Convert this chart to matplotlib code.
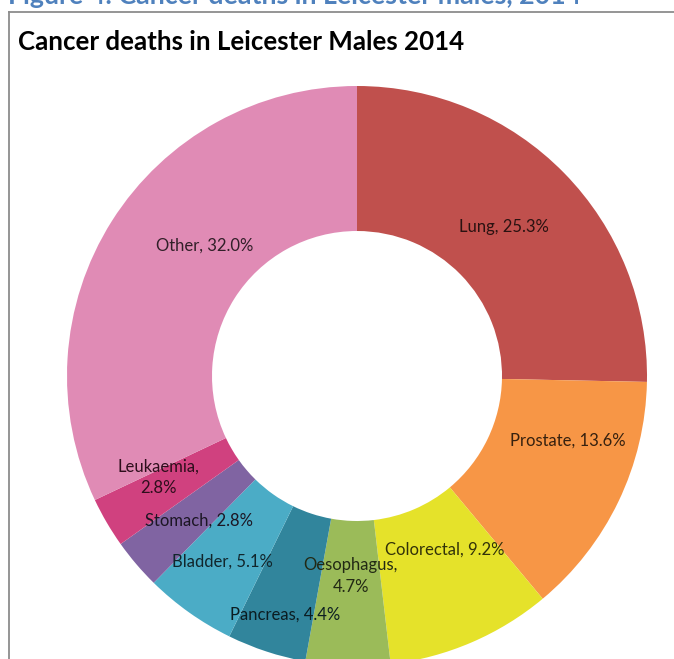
import matplotlib
matplotlib.use("Agg")
import matplotlib.pyplot as plt
import numpy as np

# data, clockwise from 12 o'clock
sites = ["Lung", "Prostate", "Colorectal", "Oesophagus", "Pancreas",
         "Bladder", "Stomach", "Leukaemia", "Other"]
shares = [25.3, 13.6, 9.2, 4.7, 4.4, 5.1, 2.8, 2.8, 32.0]
colours = ["#C0504D", "#F79646", "#E5E22A", "#9BBB59", "#31859C",
           "#4BACC6", "#8064A2", "#D0417F", "#E08BB5"]
# labels that wrap onto two lines in the original
two_line = ["Oesophagus", "Leukaemia"]
# where each label sits: fraction of outer radius and a small turn (deg, clockwise)
label_r = [0.72, 0.76, 0.67, 0.69, 0.86, 0.79, 0.74, 0.77, 0.69]
label_turn = [-1, -8.5, -3.5, 0, -1.5, 0.5, -2, 3.4, 8.3]

W, H = 674, 659
cx, cy, R = 357, 376, 290  # donut centre / radius in pixels

fig = plt.figure(figsize=(W / 100, H / 100), dpi=100)
ax = fig.add_axes([0, 0, 1, 1])

wedges, _ = ax.pie(shares, colors=colours, startangle=90, counterclock=False,
                   radius=1, wedgeprops=dict(width=0.5, linewidth=0))
# pie() resets the limits, so set them afterwards
ax.set_xlim(-cx / R, (W - cx) / R)
ax.set_ylim((cy - H) / R, cy / R)
ax.set_aspect("equal", adjustable="datalim")
ax.axis("off")

font = "Lato"
for w, name, val, col, r, t in zip(wedges, sites, shares, colours,
                                   label_r, label_turn):
    ang = np.deg2rad((w.theta1 + w.theta2) / 2 - t)
    x, y = r * np.cos(ang), r * np.sin(ang)
    sep = "\n" if name in two_line else " "
    txt = f"{name},{sep}{val:.1f}%"
    rgb = np.array(matplotlib.colors.to_rgb(col)) * 0.22
    ax.text(x, y, txt, ha="center", va="center", fontsize=12,
            color=rgb, family=font, linespacing=1.4)

# frame of the chart box (top and left edges visible)
fig.add_artist(plt.Line2D([9 / W, 1], [1 - 11.5 / H] * 2,
                          color="#8c8c8c", lw=1.3))
fig.add_artist(plt.Line2D([9 / W] * 2, [1 - 11.5 / H, 0],
                          color="#8c8c8c", lw=1.3))

# figure caption, cut off at the top like the original
fig.text(8 / W, 1 - 4 / H, "Figure 4: Cancer deaths in Leicester males, 2014",
         ha="left", va="baseline", fontsize=19.3, fontweight="bold",
         color="#4F81BD", family=font)

# chart title
fig.text(18 / W, 1 - 50 / H, "Cancer deaths in Leicester Males 2014",
         ha="left", va="baseline", fontsize=18.6, fontweight="bold",
         color="black", family=font)

fig.savefig("out.png", dpi=100)
